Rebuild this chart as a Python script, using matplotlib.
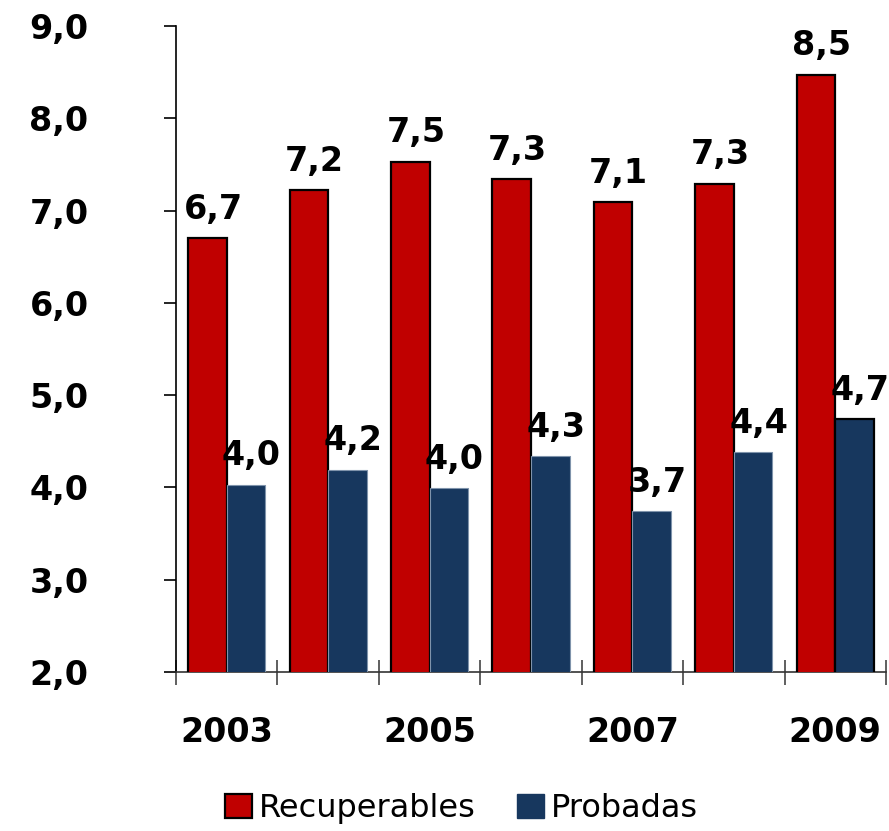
import numpy as np
import matplotlib
matplotlib.use("Agg")
import matplotlib.pyplot as plt
from matplotlib.patches import Patch

# data
years = ["2003", "2004", "2005", "2006", "2007", "2008", "2009"]
recuperables = [6.70, 7.22, 7.53, 7.34, 7.09, 7.29, 8.47]
probadas = [4.03, 4.19, 3.99, 4.34, 3.74, 4.38, 4.74]
shown_years = ["2003", "2005", "2007", "2009"]
y_ticks = [2, 3, 4, 5, 6, 7, 8, 9]

red = "#C00000"
blue = "#17375E"

plt.rcParams['font.family'] = ['DejaVu Sans']

fig = plt.figure(figsize=(8.89, 8.31), dpi=100)
ax = fig.add_axes([0.198, 0.1913, 0.7986, 0.7774])

x = np.arange(len(years))
w = 0.38
bars_r = ax.bar(x - w / 2, recuperables, w, color=red,
                edgecolor="black", linewidth=1.6, zorder=3)
blue_edges = ["#7f93ab"] * (len(years) - 1) + ["black"]
blue_lw = [0.8] * (len(years) - 1) + [1.6]
bars_b = ax.bar(x + w / 2, probadas, w, color=blue,
                edgecolor=blue_edges, linewidth=blue_lw, zorder=3)

# value labels
for bars, vals in [(bars_r, recuperables), (bars_b, probadas)]:
    for b, v in zip(bars, vals):
        ax.annotate(f"{v:.1f}".replace(".", ","),
                    (b.get_x() + b.get_width() / 2, b.get_height()),
                    xytext=(4, 9), textcoords="offset points",
                    ha="center", va="bottom", fontsize=24,
                    fontweight="bold", zorder=4)

ax.set_ylim(2, 9)
ax.set_xlim(-0.5, len(years) - 0.5)

ax.set_yticks(y_ticks)
ax.set_yticklabels([f"{t:.1f}".replace(".", ",") for t in y_ticks],
                   fontsize=24, fontweight="bold")
ax.tick_params(axis="y", direction="out", length=9, width=1.2,
               color="black", pad=54)

# labels on every other year, tick marks at group boundaries
ax.set_xticks([years.index(s) for s in shown_years])
ax.set_xticklabels(shown_years, fontsize=24, fontweight="bold")
ax.tick_params(axis="x", which="major", length=0, pad=32)
ax.set_xticks(np.arange(-0.5, len(years), 1), minor=True)
ax.tick_params(axis="x", which="minor", direction="inout", length=18,
               width=1.2, color="#444444")

for s in ["top", "right"]:
    ax.spines[s].set_visible(False)
ax.spines["left"].set_linewidth(1.2)
ax.spines["bottom"].set_linewidth(1.2)
ax.spines["bottom"].set_color("#333333")

handles = [Patch(facecolor=red, edgecolor="black", linewidth=1.6),
           Patch(facecolor=blue, edgecolor=blue)]
fig.legend(handles, ["Recuperables", "Probadas"], loc="center",
           bbox_to_anchor=(0.519, 0.027), ncol=2, frameon=False,
           fontsize=23, handlelength=0.85, handleheight=0.75,
           handletextpad=0.2, columnspacing=1.3)

fig.savefig("out.png", dpi=100)
